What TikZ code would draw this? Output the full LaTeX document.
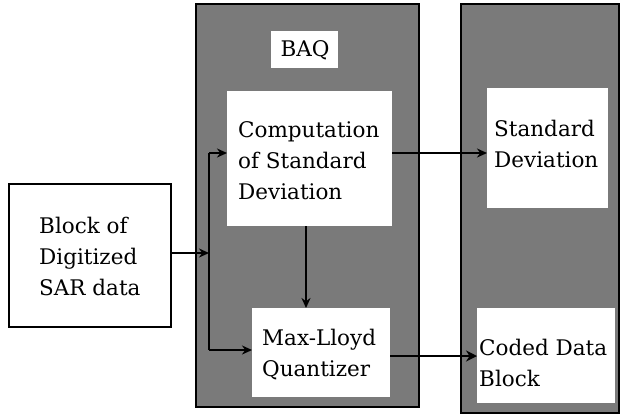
\documentclass[tikz,border=0pt]{standalone}
\usepackage{fontspec}
\setmainfont{DejaVu Serif}
\usetikzlibrary{arrows.meta}
\definecolor{panelgray}{RGB}{122,122,122}
\tikzset{
  panel/.style={draw=black, line width=1.5pt, fill=panelgray},
  whitebox/.style={fill=white, draw=none},
  inputbox/.style={fill=white, draw=black, line width=1.5pt},
  txt/.style={anchor=west, inner sep=0pt, align=left, font=\fontsize{21.5}{31}\selectfont},
  arr/.style={line width=1.9pt, -{Stealth[length=10pt,width=9pt]}},
  thickarr/.style={line width=2.8pt, -{Stealth[length=11pt,width=11pt]}},
  ln/.style={line width=1.9pt}
}
\begin{document}
\begin{tikzpicture}[x=1pt,y=-1pt]
\useasboundingbox[fill=white] (0,0) rectangle (620,416);
% panels
\path[panel] (196,4) rectangle (419,407);
\path[panel] (461,4) rectangle (619,413);
% boxes
\path[inputbox] (9,184) rectangle (171,327);
\coordinate (inR) at (171,253);
\path[whitebox] (271,31) rectangle (338,68);
\path[whitebox] (227,91) rectangle (392,226);
\path[whitebox] (252,308) rectangle (390,397);
\path[whitebox] (487,88) rectangle (608,208);
\path[whitebox] (477,308) rectangle (615,403);
% text nodes
\node[txt] (blk) at (39,256) {Block of\\Digitized\\SAR data};
\node[txt, anchor=center] (baq) at (305,50) {BAQ};
\node[txt] (comp) at (238,161) {Computation\\of Standard\\Deviation};
\node[txt] (mlq) at (262,355) {Max-Lloyd\\Quantizer};
\node[txt] (sd) at (494,144) {Standard\\Deviation};
\node[txt] (cdb) at (479,363) {Coded Data\\Block};
% coordinates for connectors
\coordinate (jn) at (209,253);
\coordinate (jtop) at (209,153);
\coordinate (jbot) at (209,350);
\coordinate (compL) at (227,153);
\coordinate (mlqL) at (252,350);
\coordinate (compB) at (306,226);
\coordinate (mlqT) at (306,308);
\coordinate (compR) at (392,153);
\coordinate (sdL) at (487,153);
\coordinate (mlqR) at (390,356);
\coordinate (cdbL) at (477,356);
% connectors
\draw[arr] (inR) -- (jn);
\draw[ln] (jtop) -- (jbot);
\draw[arr] (jtop) -- (compL);
\draw[arr] (jbot) -- (mlqL);
\draw[arr] (compB) -- (mlqT);
\draw[arr] (compR) -- (sdL);
\draw[thickarr] (mlqR) -- (cdbL);
\end{tikzpicture}
\end{document}
